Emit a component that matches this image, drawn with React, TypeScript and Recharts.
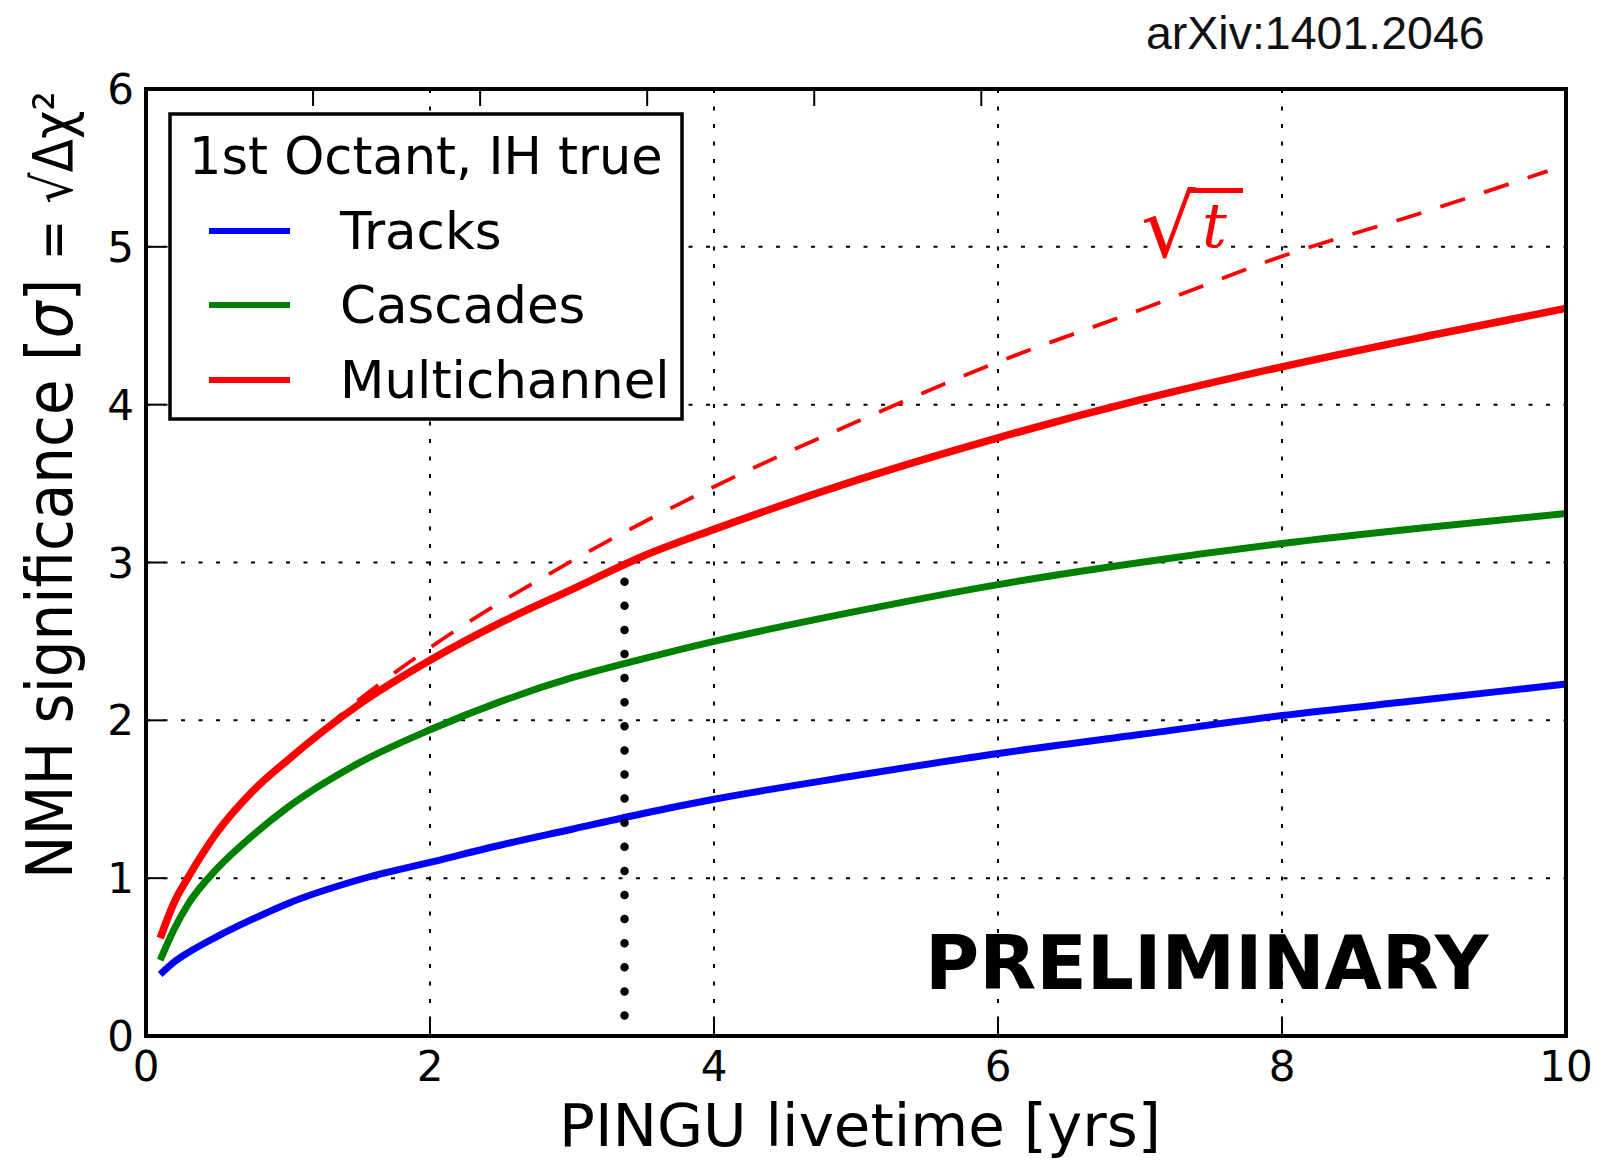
import React from 'react';
import { LineChart, Line, XAxis, YAxis, CartesianGrid, Customized, ReferenceArea } from 'recharts';

// PINGU livetime [yrs]
const years = [0.1, 0.2, 0.3, 0.5, 0.75, 1, 1.5, 2, 2.5, 3, 3.5, 4, 5, 6, 7, 8, 9, 10];
const tracks = [0.39, 0.47, 0.53, 0.63, 0.74, 0.84, 0.99, 1.1, 1.21, 1.31, 1.41, 1.5, 1.65, 1.79, 1.91, 2.03, 2.13, 2.23];
const cascades = [0.48, 0.68, 0.84, 1.06, 1.27, 1.45, 1.73, 1.94, 2.12, 2.27, 2.39, 2.5, 2.69, 2.86, 3.0, 3.12, 3.22, 3.31];
const multichannel = [0.62, 0.85, 1.01, 1.29, 1.55, 1.75, 2.1, 2.38, 2.62, 2.83, 3.04, 3.21, 3.52, 3.79, 4.03, 4.24, 4.43, 4.61];

// sqrt(t) reference curve
const sqrtYears = [1, 1.5, 2, 3, 4, 5, 6, 7, 8, 9, 9.87];
const sqrtValues = [1.74, 2.13, 2.46, 3.01, 3.48, 3.89, 4.27, 4.6, 4.94, 5.22, 5.48];

// vertical dotted marker
const markerYears = [3.37, 3.37];
const markerValues = [0.13, 3.0];

const xTicks = [0, 2, 4, 6, 8, 10];
const yTicks = [0, 1, 2, 3, 4, 5, 6];

const seriesNames = ['Tracks', 'Cascades', 'Multichannel'];
const seriesColors = ['#0000ff', '#008000', '#ff0000'];

const data = years.map((x, i) => ({
  x,
  tracks: tracks[i],
  cascades: cascades[i],
  multichannel: multichannel[i],
}));
const sqrtData = sqrtYears.map((x, i) => ({ x, sqrt: sqrtValues[i] }));
const markerData = markerYears.map((x, i) => ({ x, marker: markerValues[i] }));

const FONT = 'DejaVu Sans';

const BottomTick = (props: any) => {
  const { x, y, payload } = props;
  return (
    <g>
      <line x1={x} y1={y} x2={x} y2={y - 18} stroke="#000" strokeWidth={2} />
      <text x={x} y={y + 45} textAnchor="middle" fontSize={42} fontFamily={FONT} fill="#000">
        {payload.value}
      </text>
    </g>
  );
};

const TopTick = (props: any) => {
  const { x, y } = props;
  return <line x1={x} y1={y} x2={x} y2={y + 17} stroke="#000" strokeWidth={2} />;
};

const LeftTick = (props: any) => {
  const { x, y, payload } = props;
  return (
    <g>
      <line x1={x} y1={y} x2={x + 19} y2={y} stroke="#000" strokeWidth={2} />
      <text x={x - 12} y={y + 15} textAnchor="end" fontSize={42} fontFamily={FONT} fill="#000">
        {payload.value}
      </text>
    </g>
  );
};

const RightTick = (props: any) => {
  const { x, y } = props;
  return <line x1={x} y1={y} x2={x - 19} y2={y} stroke="#000" strokeWidth={2} />;
};

const Annotations = () => {
  const rowY = [231, 305, 380];
  const textY = [249, 323, 398];
  return (
    <g>
      {/* legend */}
      <rect x={170} y={114} width={512} height={305} fill="#fff" stroke="#000" strokeWidth={3.5} />
      <text x={189} y={174} fontSize={51} fontFamily={FONT} fill="#000">
        1st Octant, IH true
      </text>
      {seriesNames.map((n, i) => (
        <g key={n}>
          <line x1={209} x2={290} y1={rowY[i]} y2={rowY[i]} stroke={seriesColors[i]} strokeWidth={6} />
          <text x={340} y={textY[i]} fontSize={51.5} fontFamily={FONT} fill="#000">
            {n}
          </text>
        </g>
      ))}
      {/* sqrt(t) label */}
      <text x={1141} y={257} fontSize={86} fontFamily="DejaVu Serif" fill="#ff0000">
        √
      </text>
      <line x1={1190} x2={1243} y1={190.5} y2={190.5} stroke="#ff0000" strokeWidth={5} />
      <text x={1202} y={247} fontSize={62} fontFamily="DejaVu Serif" fontStyle="italic" fill="#ff0000">
        t
      </text>
      {/* PRELIMINARY */}
      <text x={925} y={989} fontSize={74} fontWeight="bold" fontFamily={FONT} fill="#000">
        PRELIMINARY
      </text>
      {/* arXiv */}
      <text x={1146} y={49} fontSize={46.5} fontFamily="Liberation Sans" fill="#111">
        arXiv:1401.2046
      </text>
      {/* axis labels */}
      <text x={860} y={1146} textAnchor="middle" fontSize={59.5} fontFamily={FONT} fill="#000">
        PINGU livetime [yrs]
      </text>
      <text transform="translate(72,879) rotate(-90) scale(1,1.12)" fontSize={58} fontFamily={FONT} fill="#000">
        NMH significance [<tspan fontStyle="italic">σ</tspan>]{' '}
        <tspan fontSize={49}>= √Δχ²</tspan>
      </text>
    </g>
  );
};

export default function App() {
  return (
    <div style={{ position: 'absolute', left: 0, top: 0, width: 1613, height: 1160, background: '#fff' }}>
      <LineChart
        width={1613}
        height={1160}
        data={data}
        margin={{ top: 88, right: 46, bottom: 0, left: 0 }}
        style={{ fontFamily: FONT }}
      >
        <CartesianGrid stroke="#000" strokeWidth={2} strokeDasharray="4 13.5" />
        <XAxis
          dataKey="x"
          type="number"
          domain={[0, 10]}
          ticks={xTicks}
          interval={0}
          height={124}
          tickSize={0}
          tickMargin={0}
          tickLine={false}
          axisLine={{ stroke: '#000', strokeWidth: 4 }}
          tick={BottomTick}
        />
        <XAxis
          xAxisId="top"
          orientation="top"
          type="number"
          domain={[0, 10]}
          ticks={xTicks}
          interval={0}
          height={1}
          tickSize={0}
          tickMargin={0}
          tickLine={false}
          axisLine={{ stroke: '#000', strokeWidth: 4 }}
          tick={TopTick}
        />
        <YAxis
          type="number"
          domain={[0, 6]}
          ticks={yTicks}
          interval={0}
          width={146}
          tickSize={0}
          tickMargin={0}
          tickLine={false}
          axisLine={{ stroke: '#000', strokeWidth: 4 }}
          tick={LeftTick}
        />
        <YAxis
          yAxisId="right"
          orientation="right"
          type="number"
          domain={[0, 6]}
          ticks={yTicks}
          interval={0}
          width={1}
          tickSize={0}
          tickMargin={0}
          tickLine={false}
          axisLine={{ stroke: '#000', strokeWidth: 4 }}
          tick={RightTick}
        />
        <ReferenceArea x1={0} x2={10} y1={0} y2={6} fill="none" stroke="#000" strokeWidth={4} />
        <Line
          dataKey="tracks"
          name="Tracks"
          type="monotone"
          stroke={seriesColors[0]}
          strokeWidth={7}
          dot={false}
          activeDot={false}
          isAnimationActive={false}
        />
        <Line
          dataKey="cascades"
          name="Cascades"
          type="monotone"
          stroke={seriesColors[1]}
          strokeWidth={7}
          dot={false}
          activeDot={false}
          isAnimationActive={false}
        />
        <Line
          data={markerData}
          dataKey="marker"
          type="linear"
          stroke="#000"
          strokeWidth={8.5}
          strokeDasharray="0 24.1"
          strokeLinecap="round"
          dot={false}
          activeDot={false}
          isAnimationActive={false}
        />
        <Line
          data={sqrtData}
          dataKey="sqrt"
          type="monotone"
          stroke="#ff0000"
          strokeWidth={3.8}
          strokeDasharray="26 20"
          dot={false}
          activeDot={false}
          isAnimationActive={false}
        />
        <Line
          dataKey="multichannel"
          name="Multichannel"
          type="monotone"
          stroke={seriesColors[2]}
          strokeWidth={7.5}
          dot={false}
          activeDot={false}
          isAnimationActive={false}
        />
        <Customized component={Annotations} />
      </LineChart>
    </div>
  );
}
